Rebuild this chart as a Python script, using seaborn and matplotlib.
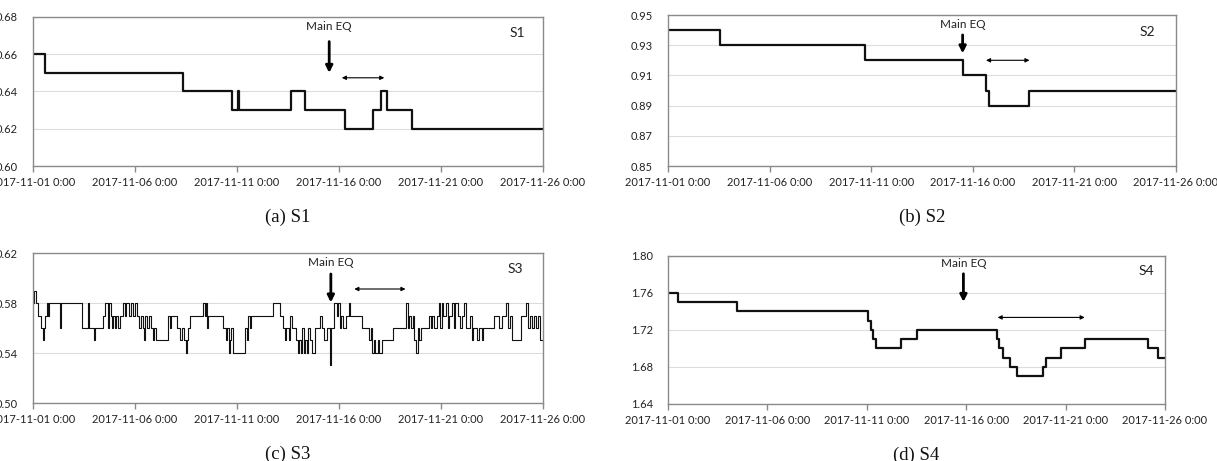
import numpy as np
import pandas as pd
import matplotlib
matplotlib.use("Agg")
import matplotlib.pyplot as plt
import matplotlib.dates as mdates
import matplotlib.transforms as mtransforms
import seaborn as sns

# step series: day offset from 2017-11-01 where each level starts
s1_days = [0, 0.6, 7.36, 9.76, 10.05, 10.1, 12.63, 13.35, 15.3, 16.65, 17.07, 17.37, 18.58]
s1_vals = [0.66, 0.65, 0.64, 0.63, 0.64, 0.63, 0.64, 0.63, 0.62, 0.63, 0.64, 0.63, 0.62]

s2_days = [0, 2.54, 9.69, 14.54, 15.65, 15.8, 17.75]
s2_vals = [0.94, 0.93, 0.92, 0.91, 0.90, 0.89, 0.90]

s3_days = [0.00, 0.05, 0.15, 0.25, 0.38, 0.48, 0.53, 0.60, 0.68, 0.72, 0.78, 1.30, 1.36,
           2.40, 2.72, 2.76, 3.00, 3.05,
           3.45, 3.52, 3.68, 3.72, 3.80, 3.86, 3.94, 4.00, 4.08, 4.16, 4.25, 4.40, 4.50, 4.58, 4.72, 4.80, 4.92, 5.00, 5.08,
           5.20, 5.28, 5.38, 5.45, 5.50, 5.60, 5.68, 5.80, 5.90, 5.95, 6.02,
           6.60, 6.72, 6.78, 7.05, 7.20, 7.30, 7.40, 7.50, 7.55, 7.62, 7.70,
           8.35, 8.42, 8.48, 8.52, 8.58,
           9.30, 9.45, 9.52, 9.60, 9.65, 9.72, 9.78,
           10.40, 10.48, 10.55, 10.62, 10.70,
           11.75, 12.10, 12.25, 12.35, 12.40, 12.55, 12.60, 12.70,
           12.90, 12.98, 13.05, 13.12, 13.20, 13.28, 13.35, 13.42, 13.50, 13.60, 13.70, 13.82,
           14.05, 14.15, 14.28, 14.40, 14.55, 14.62,
           14.75, 14.90, 14.96, 15.05, 15.12, 15.20, 15.35, 15.48, 15.55,
           16.15, 16.45, 16.55, 16.62, 16.70, 16.78, 16.90, 16.98, 17.10,
           17.65, 18.30, 18.38, 18.45, 18.55, 18.62, 18.70, 18.78, 18.85, 18.92, 19.00,
           19.40, 19.50, 19.58, 19.65, 19.78, 19.90, 19.96, 20.05, 20.12, 20.25, 20.32, 20.40, 20.55, 20.62, 20.70, 20.85, 20.95, 21.02, 21.15, 21.22,
           21.40, 21.50, 21.58, 21.75, 21.85, 22.00, 22.08,
           22.60, 22.85, 23.00, 23.20, 23.28, 23.40, 23.50, 23.90, 24.18, 24.25, 24.35, 24.48, 24.55, 24.65, 24.75, 24.85]
s3_vals = [0.58, 0.59, 0.58, 0.57, 0.56, 0.55, 0.56, 0.57, 0.58, 0.57, 0.58, 0.56, 0.58,
           0.56, 0.58, 0.56, 0.55, 0.56,
           0.57, 0.58, 0.56, 0.58, 0.57, 0.56, 0.57, 0.56, 0.57, 0.56, 0.57, 0.58, 0.57, 0.58, 0.57, 0.58, 0.57, 0.58, 0.57,
           0.56, 0.57, 0.56, 0.55, 0.57, 0.56, 0.57, 0.56, 0.55, 0.56, 0.55,
           0.57, 0.56, 0.57, 0.56, 0.55, 0.56, 0.55, 0.54, 0.55, 0.56, 0.57,
           0.58, 0.57, 0.58, 0.56, 0.57,
           0.56, 0.55, 0.56, 0.54, 0.55, 0.56, 0.54,
           0.56, 0.55, 0.57, 0.56, 0.57,
           0.58, 0.57, 0.56, 0.55, 0.56, 0.55, 0.57, 0.56,
           0.55, 0.54, 0.55, 0.54, 0.56, 0.54, 0.55, 0.54, 0.56, 0.55, 0.54, 0.56,
           0.57, 0.56, 0.55, 0.56, 0.53, 0.56,
           0.58, 0.57, 0.58, 0.56, 0.57, 0.56, 0.57, 0.58, 0.57,
           0.56, 0.55, 0.56, 0.54, 0.55, 0.54, 0.55, 0.54, 0.55,
           0.56, 0.58, 0.56, 0.57, 0.56, 0.57, 0.55, 0.54, 0.56, 0.55, 0.56,
           0.57, 0.56, 0.57, 0.56, 0.57, 0.58, 0.56, 0.58, 0.57, 0.58, 0.56, 0.57, 0.58, 0.56, 0.58, 0.57, 0.56, 0.57, 0.58, 0.56,
           0.57, 0.55, 0.56, 0.55, 0.56, 0.55, 0.56,
           0.57, 0.56, 0.57, 0.58, 0.56, 0.57, 0.55, 0.57, 0.58, 0.56, 0.57, 0.56, 0.57, 0.56, 0.57, 0.55]

s4_days = [0, 0.49, 3.47, 10.04, 10.2, 10.3, 10.45, 11.74, 12.52, 16.54, 16.67, 16.87, 17.22,
           17.55, 18.86, 19.01, 19.75, 20.96, 24.14, 24.67]
s4_vals = [1.76, 1.75, 1.74, 1.73, 1.72, 1.71, 1.70, 1.71, 1.72, 1.71, 1.70, 1.69, 1.68,
           1.67, 1.68, 1.69, 1.70, 1.71, 1.70, 1.69]

names = ["S1", "S2", "S3", "S4"]
captions = ["(a) S1", "(b) S2", "(c) S3", "(d) S4"]
y_limits = [(0.60, 0.68), (0.85, 0.95), (0.50, 0.62), (1.64, 1.80)]
y_steps = [0.02, 0.02, 0.04, 0.04]
eq_days = [14.52, 14.5, 14.6, 14.86]
win_start = [15.14, 15.65, 15.75, 16.58]
win_end = [17.22, 17.79, 18.26, 20.96]

start = pd.Timestamp("2017-11-01")
span_days = 25


def to_frame(days, vals):
    d = list(days) + [span_days]
    v = list(vals) + [vals[-1]]
    return pd.DataFrame({"time": start + pd.to_timedelta(d, unit="D"), "value": v})


sns.set_theme(style="white")
plt.rcParams["font.family"] = ["Lato", "DejaVu Sans"]

fig = plt.figure(figsize=(12.17, 4.61), dpi=100)
W, H = 1217, 461
# axes boxes in pixels: left, top, right, bottom
boxes = [(33, 17, 543, 166), (668, 15, 1176, 166), (33, 253, 543, 403), (668, 256, 1165, 404)]
# layout of the annotations inside each panel (axes fraction)
main_y = [(0.935, 0.835, 0.625), (0.935, 0.868, 0.746), (0.937, 0.86, 0.67), (0.95, 0.88, 0.69)]
win_y = [0.592, 0.70, 0.76, 0.585]
lab_xy = [(0.95, 0.89), (0.943, 0.89), (0.946, 0.893), (0.962, 0.90)]
widths = [1.6, 1.6, 0.8, 1.6]

series = [(s1_days, s1_vals), (s2_days, s2_vals), (s3_days, s3_vals), (s4_days, s4_vals)]

for i, (days, vals) in enumerate(series):
    l, t, r, b = boxes[i]
    ax = fig.add_axes([l / W, 1 - b / H, (r - l) / W, (b - t) / H])
    df = to_frame(days, vals)
    sns.lineplot(data=df, x="time", y="value", ax=ax, color="#111111", lw=widths[i],
                 drawstyle="steps-post", estimator=None, sort=False)

    lo, hi = y_limits[i]
    ax.set_ylim(lo, hi)
    ax.set_yticks(np.arange(lo, hi + 1e-9, y_steps[i]))
    ax.yaxis.set_major_formatter(plt.FormatStrFormatter("%.2f"))
    ax.set_xlim(start, start + pd.Timedelta(days=span_days))
    ax.set_xticks(pd.date_range(start, periods=6, freq="5D"))
    ax.xaxis.set_major_formatter(plt.FuncFormatter(
        lambda x, pos: mdates.num2date(x).strftime("%Y-%m-%d") + " 0:00"))
    ax.set_xlabel("")
    ax.set_ylabel("")
    ax.grid(axis="y", color="#dcdcdc", lw=0.8)
    ax.grid(axis="x", visible=False)
    for sp in ax.spines.values():
        sp.set_color("#8a8a8a")
        sp.set_linewidth(1.0)
    ax.tick_params(axis="x", which="major", bottom=True, length=4, width=1, color="#8a8a8a",
                   labelsize=8, pad=4, labelcolor="#222222")
    ax.tick_params(axis="y", length=0, labelsize=8, pad=11, labelcolor="#222222")

    trans = mtransforms.blended_transform_factory(ax.transData, ax.transAxes)
    eq = mdates.date2num(start + pd.Timedelta(days=eq_days[i]))
    ty, ay0, ay1 = main_y[i]
    ax.text(eq, ty, "Main EQ", transform=trans, ha="center", va="center", fontsize=8.5, color="#222222")
    ax.annotate("", xy=(eq, ay1), xytext=(eq, ay0), xycoords=trans, textcoords=trans,
                arrowprops=dict(arrowstyle="-|>", lw=2.0, color="black", mutation_scale=10,
                                shrinkA=0, shrinkB=0))
    ws = mdates.date2num(start + pd.Timedelta(days=win_start[i]))
    we = mdates.date2num(start + pd.Timedelta(days=win_end[i]))
    ax.annotate("", xy=(we, win_y[i]), xytext=(ws, win_y[i]), xycoords=trans, textcoords=trans,
                arrowprops=dict(arrowstyle="<|-|>", lw=0.8, color="black", mutation_scale=6,
                                shrinkA=0, shrinkB=0))
    ax.text(lab_xy[i][0], lab_xy[i][1], names[i], transform=ax.transAxes, ha="center",
            va="center", fontsize=10, color="#222222")

    fig.text(((l + r) / 2) / W, 1 - (b + 51) / H, captions[i], ha="center", va="center",
             fontsize=13.5, family=["Liberation Serif", "DejaVu Serif"], color="#111111")

fig.savefig("out.png", dpi=100)
